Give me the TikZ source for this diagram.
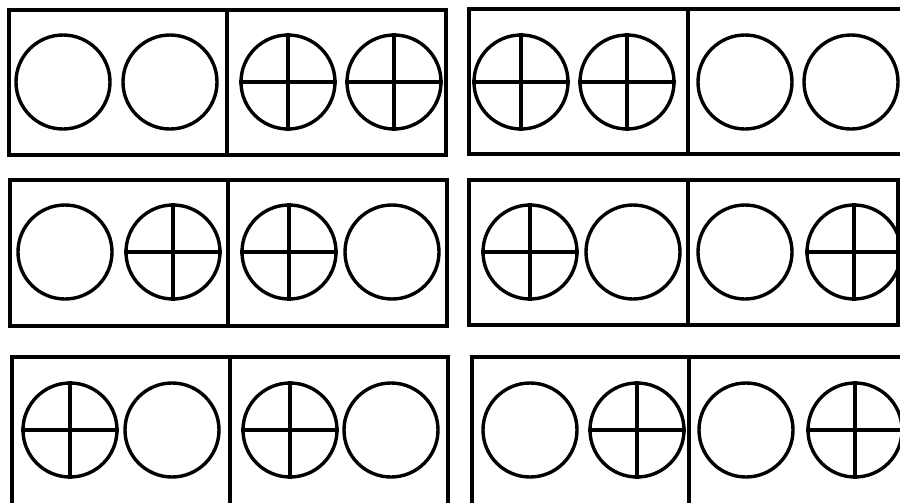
\documentclass[tikz,border=0pt]{standalone}
\usepackage{tikz}

\tikzset{
    frame/.style={line width=3.2pt},
    counter/.style={draw, circle, line width=2.9pt, minimum size=2.82cm, inner sep=0pt},
    bar/.style={line width=2.8pt}
}

\begin{document}
\begin{tikzpicture}[x=0.03cm, y=-0.03cm]
        \useasboundingbox (0,0) rectangle (900,502);
        \clip (0,0) rectangle (900,502);

        % Ten-frame halves
        \draw[frame] (9,10) rectangle (446,155);
        \draw[frame] (227,10) -- (227,155);
        \draw[frame] (469,9) rectangle (910,154);
        \draw[frame] (688,9) -- (688,154);

        \draw[frame] (10,180) rectangle (447,326);
        \draw[frame] (228,180) -- (228,326);
        \draw[frame] (469,180) rectangle (898,325);
        \draw[frame] (688,180) -- (688,325);

        \draw[frame] (12,357) rectangle (448,520);
        \draw[frame] (230,357) -- (230,520);
        \draw[frame] (472,357) rectangle (910,520);
        \draw[frame] (689,357) -- (689,520);

        % Row 1 (1 = crossed counter)
        \foreach \x/\c in {63/0, 170/0, 288/1, 394/1, 521/1, 627/1, 745/0, 851/0} {
            \node[counter] (a\x) at (\x,82) {};
            \ifnum\c=1
                \draw[bar] (a\x.north) -- (a\x.south);
                \draw[bar] (a\x.west) -- (a\x.east);
            \fi
        }

        % Row 2
        \foreach \x/\c in {65/0, 173/1, 289/1, 392/0, 530/1, 633/0, 745/0, 854/1} {
            \node[counter] (b\x) at (\x,252) {};
            \ifnum\c=1
                \draw[bar] (b\x.north) -- (b\x.south);
                \draw[bar] (b\x.west) -- (b\x.east);
            \fi
        }

        % Row 3
        \foreach \x/\c in {70/1, 172/0, 290/1, 391/0, 530/0, 637/1, 746/0, 855/1} {
            \node[counter] (c\x) at (\x,430) {};
            \ifnum\c=1
                \draw[bar] (c\x.north) -- (c\x.south);
                \draw[bar] (c\x.west) -- (c\x.east);
            \fi
        }

    \end{tikzpicture}
\end{document}
